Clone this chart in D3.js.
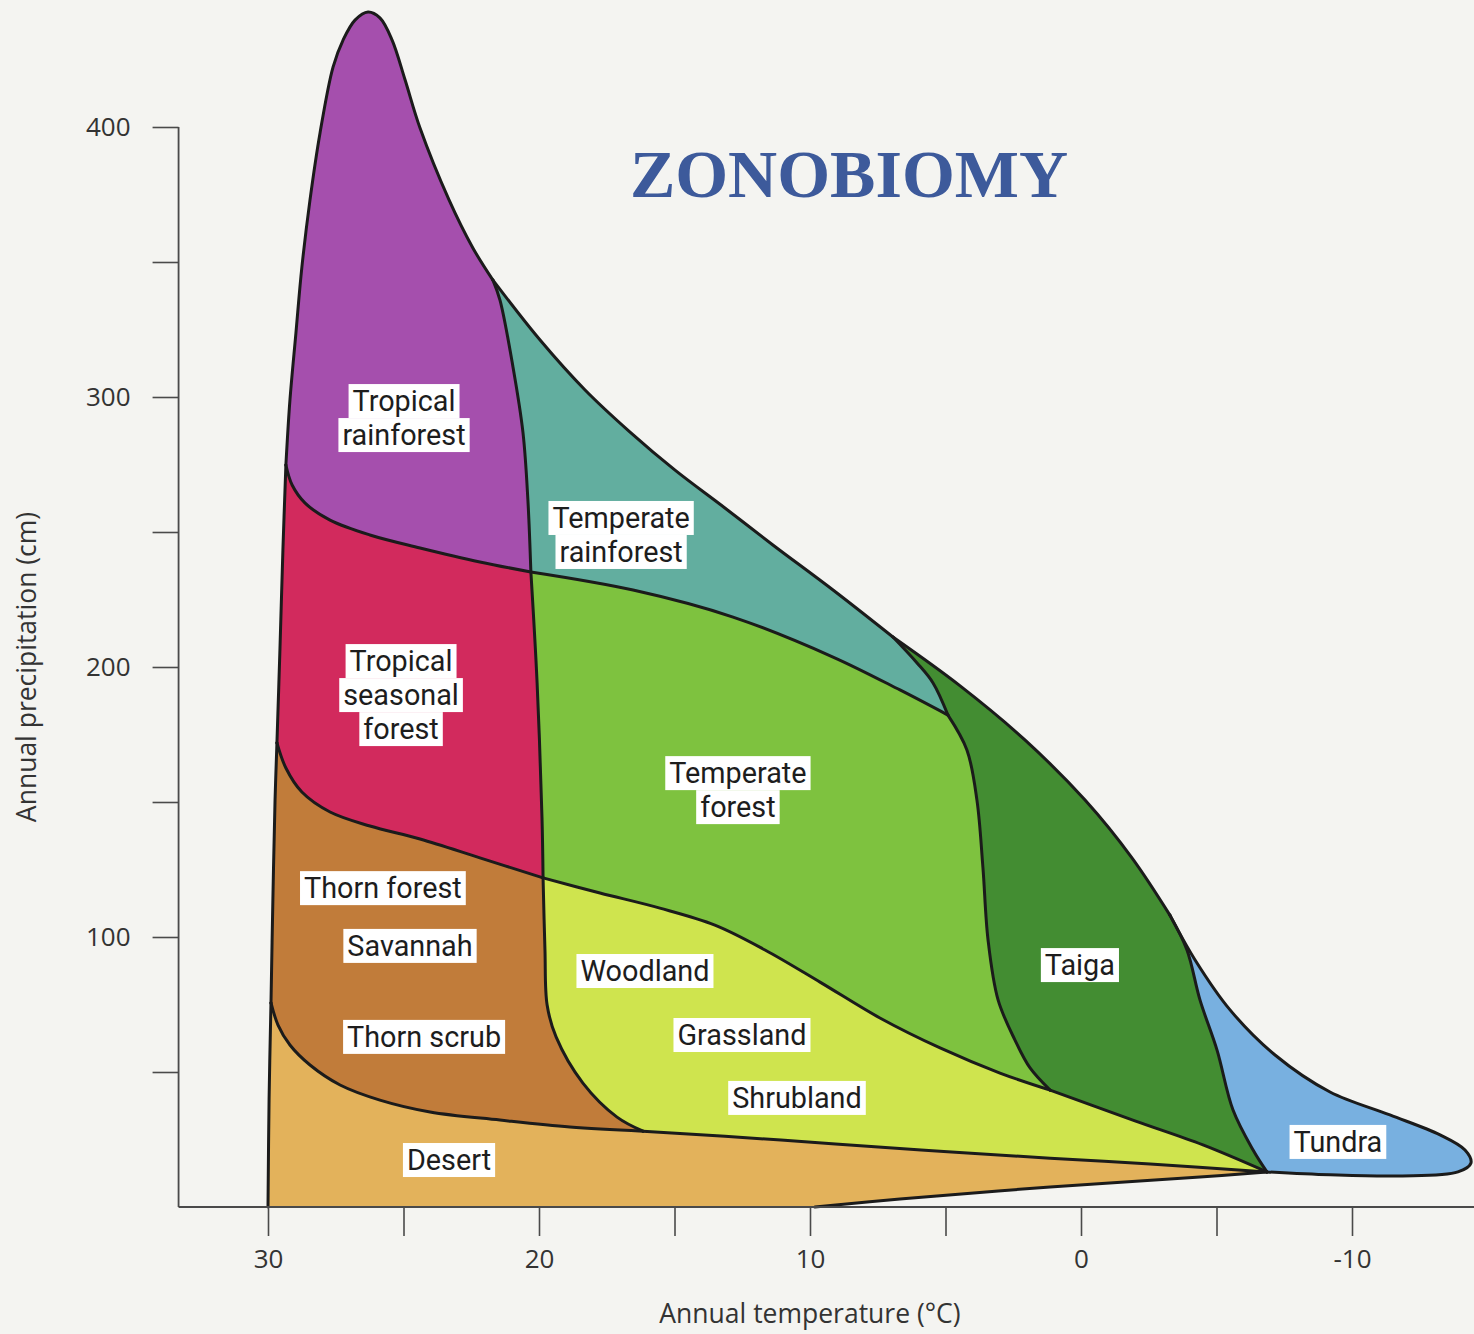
<!DOCTYPE html>
<html><head><meta charset="utf-8">
<script src="https://cdn.jsdelivr.net/npm/d3@7"></script>
<style>
html,body{margin:0;padding:0;background:#f4f4f1;}
svg{display:block;}
</style></head><body>
<svg id="chart" width="1474" height="1334"></svg>
<script>
// ---- tick values / labels ----
const xTicks = [30, 25, 20, 15, 10, 5, 0, -5, -10];
const xTickLabels = ["30", "", "20", "", "10", "", "0", "", "-10"];
const yTicks = [50, 100, 150, 200, 250, 300, 350, 400];
const yTickLabels = ["", "100", "", "200", "", "300", "", "400"];

// ---- boundary curves, [temperature °C, precipitation cm] ----
const leftA = [[30, 0], [29.96, 40], [29.89, 75.6]];
const leftB = [[29.89, 75.6], [29.82, 113.7], [29.74, 150.7], [29.67, 171.9]];
const leftC = [[29.67, 171.9], [29.56, 206.3], [29.45, 243.3], [29.34, 274.8]];
const peakEdge = [[29.34, 274.8], [29.19, 298.9], [28.97, 323.7], [28.75, 348.1], [28.45, 373], [28.08, 397.8], [27.6, 422.2], [27.23, 432.2], [26.79, 439.6], [26.31, 442.6], [25.87, 440.4], [25.42, 432.2], [24.94, 417.4], [24.39, 399.6], [23.32, 373], [22.44, 355.2], [21.7, 343.3]];
const tealTop = [[21.7, 343.3], [19.96, 321.1], [18.3, 302.6], [16.64, 287], [14.98, 272.9], [13.14, 258.9], [11.37, 245.2], [9.15, 228.5], [6.94, 211.1]];
const taigaTop = [[6.94, 211.1], [4.46, 193], [2.07, 173], [-0.15, 150.7], [-1.88, 129.3], [-3.28, 108.1]];
const tundraEdge = [[-3.28, 108.1], [-4.21, 91.5], [-5.5, 73], [-7.16, 56.3], [-9.19, 42.6], [-11.4, 34.1], [-13.25, 26.7], [-14.17, 21.1], [-14.39, 16.3], [-13.91, 13], [-11.77, 11.5], [-9.19, 11.9], [-6.86, 13]];
const desertBase = [[-6.86, 13], [-4.39, 11.1], [1.14, 7.4], [6.68, 3], [9.82, 0]];
const axisBase = [[9.82, 0], [30, 0]];
const rainSplit = [[21.7, 343.3], [21.44, 335.9], [20.96, 311.1], [20.59, 286.7], [20.41, 261.9], [20.3, 235.2]];
const tropRainBase = [[29.34, 274.8], [29.11, 267.4], [28.63, 260.7], [27.71, 254.4], [26.24, 248.9], [24.39, 244.1], [22.18, 238.9], [20.3, 235.2]];
const tempRainBase = [[20.3, 235.2], [16.53, 228.5], [12.84, 218.5], [9.15, 203.7], [6.68, 191.5], [4.91, 182.2]];
const tealTaiga = [[6.94, 211.1], [6.05, 201.5], [5.46, 194.1], [4.91, 182.2]];
const forestSplit = [[20.3, 235.2], [20.07, 194.1], [19.89, 144.4], [19.85, 121.9]];
const seasonalBase = [[29.67, 171.9], [29.34, 162.6], [28.75, 153.7], [27.71, 146.3], [26.24, 141.1], [24.39, 136.3], [22.18, 129.3], [19.85, 121.9]];
const taigaSplit = [[4.91, 182.2], [4.21, 169.3], [3.84, 150.7], [3.62, 125.9], [3.43, 98.9], [3.06, 76.7], [2.44, 61.9], [1.88, 51.5], [1.14, 43.3]];
const forestBase = [[19.85, 121.9], [17.75, 116.3], [15.54, 110.7], [13.51, 104.4], [11.66, 95.2], [9.63, 83.3], [7.42, 70], [5.2, 58.9], [2.99, 49.6], [1.14, 43.3]];
const woodSplit = [[19.85, 121.9], [19.78, 95.2], [19.7, 74.8], [19.37, 63], [18.38, 45.9], [17.12, 33.3], [16.16, 28.1]];
const scrubBase = [[29.89, 75.6], [29.63, 67.4], [29.19, 60], [28.45, 52.6], [27.34, 45.2], [25.87, 39.6], [24.02, 35.2], [21.44, 32.2], [18.86, 29.6], [16.16, 28.1]];
const desertTop = [[16.16, 28.1], [11.07, 24.8], [5.9, 21.1], [1.14, 18.1], [-2.55, 15.9], [-6.86, 13]];
const shrubTaiga = [[1.14, 43.3], [-1.99, 31.9], [-4.5, 23], [-6.86, 13]];
const tundraSplit = [[-3.28, 108.1], [-3.91, 95.2], [-4.39, 76.7], [-5.02, 58.1], [-5.61, 35.9], [-6.35, 21.1], [-6.86, 13]];

// ---- biome names, colours, label anchors [temp, precip] ----
const biomeNames = ["Tropical rainforest", "Temperate rainforest", "Tropical seasonal forest", "Temperate forest", "Taiga", "Tundra", "Woodland / Grassland / Shrubland", "Thorn forest / Savannah / Thorn scrub", "Desert"];
const biomeColors = ["#a54fad", "#62ae9f", "#d22a5d", "#7ec23f", "#438d32", "#78b0e0", "#cfe44e", "#c17c3a", "#e3b25b"];
const biomeSegments = [
  [[peakEdge, 0], [rainSplit, 0], [tropRainBase, 1]],
  [[tealTop, 0], [tealTaiga, 0], [tempRainBase, 1], [rainSplit, 1]],
  [[tropRainBase, 0], [forestSplit, 0], [seasonalBase, 1], [leftC, 0]],
  [[tempRainBase, 0], [taigaSplit, 0], [forestBase, 1], [forestSplit, 1]],
  [[taigaTop, 0], [tundraSplit, 0], [shrubTaiga, 1], [taigaSplit, 1], [tealTaiga, 1]],
  [[tundraEdge, 0], [tundraSplit, 1]],
  [[forestBase, 0], [shrubTaiga, 0], [desertTop, 1], [woodSplit, 1]],
  [[seasonalBase, 0], [woodSplit, 0], [scrubBase, 1], [leftB, 0]],
  [[scrubBase, 0], [desertTop, 0], [desertBase, 0], [axisBase, 0], [leftA, 0]]
];
const strokedBoundaries = [leftA, leftB, leftC, peakEdge, tealTop, taigaTop, tundraEdge, desertBase, rainSplit, tropRainBase, tempRainBase, tealTaiga, forestSplit, seasonalBase, taigaSplit, forestBase, woodSplit, scrubBase, desertTop, shrubTaiga, tundraSplit];

const labelTexts = [["Tropical", "rainforest"], ["Temperate", "rainforest"], ["Tropical", "seasonal", "forest"], ["Temperate", "forest"], ["Thorn forest"], ["Savannah"], ["Thorn scrub"], ["Woodland"], ["Grassland"], ["Shrubland"], ["Desert"], ["Taiga"], ["Tundra"]];
const labelAnchors = [[24.98, 292.2], [16.97, 248.9], [25.09, 189.6], [12.66, 154.4], [25.76, 118.1], [24.76, 96.7], [24.24, 63], [16.09, 87.4], [12.51, 63.7], [10.48, 40.4], [23.32, 17.4], [0.04, 89.6], [-9.48, 24.1]];

const axisCross = 33.3;      // temperature where the y axis stands
const axisRightEnd = -14.6;  // right end of the x axis line

// ---- drawing ----
const svg = d3.select("#chart");
const x = d3.scaleLinear().domain([30, -10]).range([268, 1352]);
const y = d3.scaleLinear().domain([0, 400]).range([1207, 127]);
const line = d3.line().x(d => x(d[0])).y(d => y(d[1])).curve(d3.curveCatmullRom.alpha(0.5));
const FONT = "'Open Sans', 'DejaVu Sans', sans-serif";
const LABEL_FONT = "Roboto, 'Open Sans', sans-serif";

function regionPath(segs) {
  return segs.map(([pts, rev], i) => {
    const s = line(rev ? pts.slice().reverse() : pts);
    return i === 0 ? s : s.replace(/^M/, "L");
  }).join("") + "Z";
}

svg.append("g").selectAll("path").data(biomeSegments).join("path")
  .attr("d", d => regionPath(d))
  .attr("fill", (d, i) => biomeColors[i])
  .attr("stroke", (d, i) => biomeColors[i])
  .attr("stroke-width", 0.8);

svg.append("g").selectAll("path").data(strokedBoundaries).join("path")
  .attr("d", d => line(d))
  .attr("fill", "none")
  .attr("stroke", "#1b1b1b")
  .attr("stroke-width", 3)
  .attr("stroke-linejoin", "round")
  .attr("stroke-linecap", "round");

// axes
const axisColor = "#4a4a4a";
const gx = svg.append("g").attr("transform", `translate(0,${y(0)})`)
  .call(d3.axisBottom(x).tickValues(xTicks).tickSize(29).tickPadding(14).tickFormat((d, i) => xTickLabels[i]));
gx.select(".domain").remove();
const gy = svg.append("g").attr("transform", `translate(${x(axisCross)},0)`)
  .call(d3.axisLeft(y).tickValues(yTicks).tickSize(26).tickPadding(22).tickFormat((d, i) => yTickLabels[i]));
gy.select(".domain").remove();
[gx, gy].forEach(g => {
  g.selectAll(".tick line").attr("stroke", axisColor).attr("stroke-width", 1.6);
  g.selectAll(".tick text").attr("fill", "#333").attr("font-size", 26).attr("font-family", FONT);
});
svg.append("line").attr("x1", x(axisCross)).attr("x2", x(axisRightEnd))
  .attr("y1", y(0)).attr("y2", y(0)).attr("stroke", axisColor).attr("stroke-width", 1.8);
svg.append("line").attr("x1", x(axisCross)).attr("x2", x(axisCross))
  .attr("y1", y(400)).attr("y2", y(0)).attr("stroke", axisColor).attr("stroke-width", 1.8);

// axis titles
svg.append("text").attr("transform", `translate(36,${y(200)}) rotate(-90)`)
  .attr("text-anchor", "middle").attr("font-family", FONT).attr("font-size", 26.5).attr("fill", "#333")
  .text("Annual precipitation (cm)");
svg.append("text").attr("x", x(10)).attr("y", 1323)
  .attr("text-anchor", "middle").attr("font-family", FONT).attr("font-size", 26.5).attr("fill", "#333")
  .text("Annual temperature (°C)");

// title
svg.append("text").attr("x", 849).attr("y", 197).attr("text-anchor", "middle")
  .attr("font-family", "'Liberation Serif', 'DejaVu Serif', serif").attr("font-weight", "bold")
  .attr("font-size", 68).attr("fill", "#3d5a9b").text("ZONOBIOMY");

// biome labels: one text per label, one tspan per line, white box per line
const LFS = 28.8, LH = 34, PAD = 4;
const lg = svg.append("g");
labelTexts.forEach((lines, k) => {
  const cx = x(labelAnchors[k][0]), cy = y(labelAnchors[k][1]);
  const top = cy - lines.length * LH / 2;
  const grp = lg.append("g");
  const boxes = grp.append("g");
  const txt = grp.append("text").attr("text-anchor", "middle").attr("font-family", LABEL_FONT)
    .attr("font-size", LFS).attr("fill", "#1d1d1d");
  lines.forEach((t, j) => {
    const ts = txt.append("tspan").attr("x", cx).attr("y", top + j * LH + LH / 2 + LFS * 0.35).text(t);
    const w = ts.node().getComputedTextLength();
    boxes.append("rect").attr("fill", "#fff")
      .attr("x", cx - w / 2 - PAD).attr("y", top + j * LH).attr("width", w + 2 * PAD).attr("height", LH);
  });
});
</script>
</body></html>
